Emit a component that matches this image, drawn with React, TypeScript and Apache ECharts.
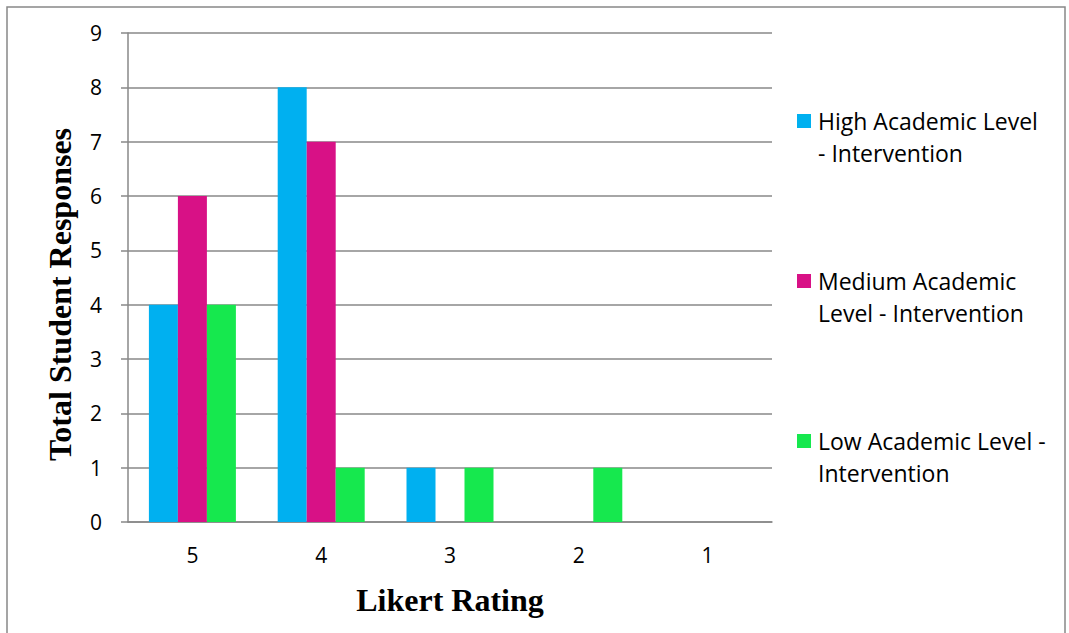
import React, { useEffect, useRef } from "react";
import * as echarts from "echarts";

const categories = ["5", "4", "3", "2", "1"];
const seriesNames = [
  "High Academic Level - Intervention",
  "Medium Academic Level - Intervention",
  "Low Academic Level - Intervention",
];
const legendLines = [
  ["High Academic Level", "- Intervention"],
  ["Medium Academic", "Level - Intervention"],
  ["Low Academic Level -", "Intervention"],
];
const highValues = [4, 8, 1, 0, 0];
const mediumValues = [6, 7, 0, 0, 0];
const lowValues = [4, 1, 1, 1, 0];
const colors = ["#00B0F0", "#D81186", "#16E84E"];
const yTicks = [0, 9, 1];

export default function App() {
  const ref = useRef<HTMLDivElement>(null);
  useEffect(() => {
    if (!ref.current) return;
    const chart = echarts.init(ref.current, null, { renderer: "svg" });
    const values = [highValues, mediumValues, lowValues];
    const legendEls: any[] = [];
    seriesNames.forEach((_, i) => {
      const y0 = 121 + i * 160;
      legendEls.push({
        type: "rect",
        shape: { x: 797, y: y0 - 7, width: 14, height: 14 },
        style: { fill: colors[i] },
      });
      legendLines[i].forEach((line, j) => {
        legendEls.push({
          type: "text",
          x: 818,
          y: y0 + j * 32,
          style: {
            text: line,
            font: '23px "Open Sans", sans-serif',
            fill: "#000",
            verticalAlign: "middle",
          },
        });
      });
    });
    chart.setOption({
      animation: false,
      backgroundColor: "#fff",
      grid: { left: 128, right: 297, top: 33, bottom: 111 },
      xAxis: {
        type: "category",
        data: categories,
        name: "Likert Rating",
        nameLocation: "middle",
        nameGap: 62,
        nameTextStyle: {
          fontFamily: "Liberation Serif",
          fontWeight: "bold",
          fontSize: 32,
          color: "#000",
        },
        axisLine: { lineStyle: { color: "#888", width: 1.5 } },
        axisTick: { show: false },
        axisLabel: {
          margin: 22,
          fontFamily: "Open Sans",
          fontSize: 21,
          color: "#000",
        },
      },
      yAxis: {
        type: "value",
        min: yTicks[0],
        max: yTicks[1],
        interval: yTicks[2],
        name: "Total Student Responses",
        nameLocation: "middle",
        nameGap: 52,
        nameTextStyle: {
          fontFamily: "Liberation Serif",
          fontWeight: "bold",
          fontSize: 32,
          color: "#000",
          padding: [0, 34, 0, 0],
        },
        axisLine: { show: true, lineStyle: { color: "#888", width: 1.5 } },
        axisTick: { show: true, length: 7, lineStyle: { color: "#888", width: 1.5 } },
        splitLine: { lineStyle: { color: "#888", width: 1.5 } },
        axisLabel: {
          margin: 26,
          fontFamily: "Open Sans",
          fontSize: 21,
          color: "#000",
        },
      },
      series: seriesNames.map((name, i) => ({
        name,
        type: "bar",
        data: values[i],
        barWidth: 29,
        barGap: "0%",
        itemStyle: { color: colors[i] },
      })),
      graphic: [
        {
          type: "rect",
          shape: { x: 7, y: 7, width: 1058, height: 640 },
          style: { fill: "none", stroke: "#888", lineWidth: 1.5 },
          silent: true,
        },
        ...legendEls,
      ],
    });
    return () => chart.dispose();
  }, []);
  return <div ref={ref} style={{ width: 1069, height: 633, position: "absolute", left: 0, top: 0 }} />;
}
